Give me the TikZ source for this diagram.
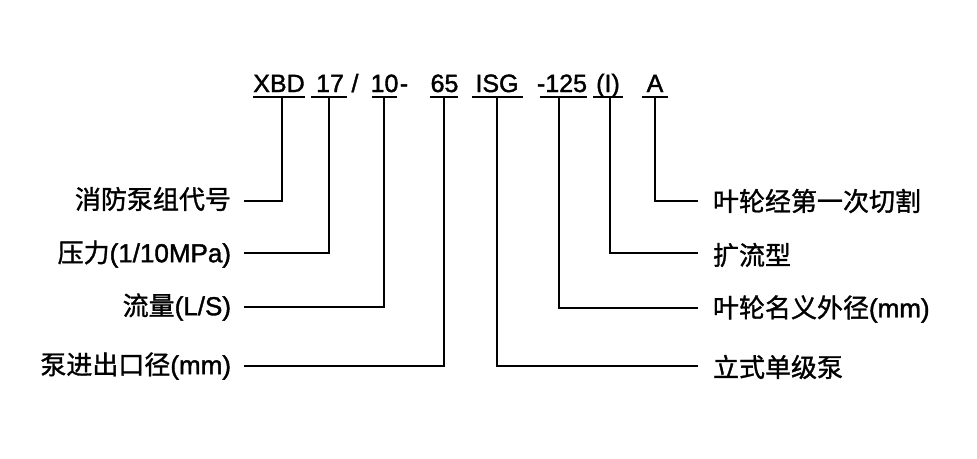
\documentclass[tikz,border=0pt]{standalone}
\usepackage{fontspec}
\setmainfont[FakeBold=1.5]{Liberation Sans}
\newfontfamily\cjk[FakeBold=1.2]{Noto Sans CJK SC}
\begin{document}
\begin{tikzpicture}[x=1pt,y=-1pt,line width=2pt,
  code/.style={font=\fontsize{25}{30}\selectfont,inner sep=0pt,anchor=base},
  llab/.style={font=\fontsize{26}{30}\selectfont,inner sep=0pt,anchor=east},
  rlab/.style={font=\fontsize{26}{30}\selectfont,inner sep=0pt,anchor=west},
  conn/.style={draw=black,line width=2pt}]
\useasboundingbox (0,0) rectangle (977,458);
\fill[white] (0,0) rectangle (977,458);
% top code
\node[code] (xbd) at (279,92) {XBD};
\node[code] (c17) at (330,92) {17};
\node[code] (sl) at (355,92) {/};
\node[code] (c10) at (384.5,92) {10};
\node[code] (d1) at (404,92) {-};
\node[code] (c65) at (444.5,92) {65};
\node[code] (isg) at (497,92) {ISG};
\node[code] (c125) at (562,92) {-125};
\node[code] (ci) at (608,92) {(I)};
\node[code] (ca) at (655,92) {A};
% underlines
\foreach \a/\b in {253/305,311/347,372/397,430/458,472/523,540/587,593/623,642/668}
  \draw[conn] (\a,97) -- (\b,97);
% left labels
\node[llab] (l1) at (232,199) {{\cjk 消防泵组代号}};
\node[llab] (l2) at (232,254) {{\cjk 压力}(1/10MPa)};
\node[llab] (l3) at (232,307) {{\cjk 流量}(L/S)};
\node[llab] (l4) at (232,366) {{\cjk 泵进出口径}(mm)};
% right labels
\node[rlab] (r1) at (712,201) {{\cjk 叶轮经第一次切割}};
\node[rlab] (r2) at (712,255) {{\cjk 扩流型}};
\node[rlab] (r3) at (712,309) {{\cjk 叶轮名义外径}(mm)};
\node[rlab] (r4) at (712,367) {{\cjk 立式单级泵}};
% connector coordinates
\coordinate (t1) at (282,97);
\coordinate (t2) at (329,97);
\coordinate (t3) at (384,97);
\coordinate (t4) at (444,97);
\coordinate (t5) at (497,97);
\coordinate (t6) at (559,97);
\coordinate (t7) at (610,97);
\coordinate (t8) at (655,97);
\coordinate (e1) at (244,201);
\coordinate (e2) at (244,253);
\coordinate (e3) at (244,307);
\coordinate (e4) at (244,366);
\coordinate (f1) at (698,201);
\coordinate (f2) at (698,253);
\coordinate (f3) at (698,308);
\coordinate (f4) at (698,366);
\draw[conn] (t1) |- (e1);
\draw[conn] (t2) |- (e2);
\draw[conn] (t3) |- (e3);
\draw[conn] (t4) |- (e4);
\draw[conn] (t8) |- (f1);
\draw[conn] (t7) |- (f2);
\draw[conn] (t6) |- (f3);
\draw[conn] (t5) |- (f4);
\end{tikzpicture}
\end{document}
